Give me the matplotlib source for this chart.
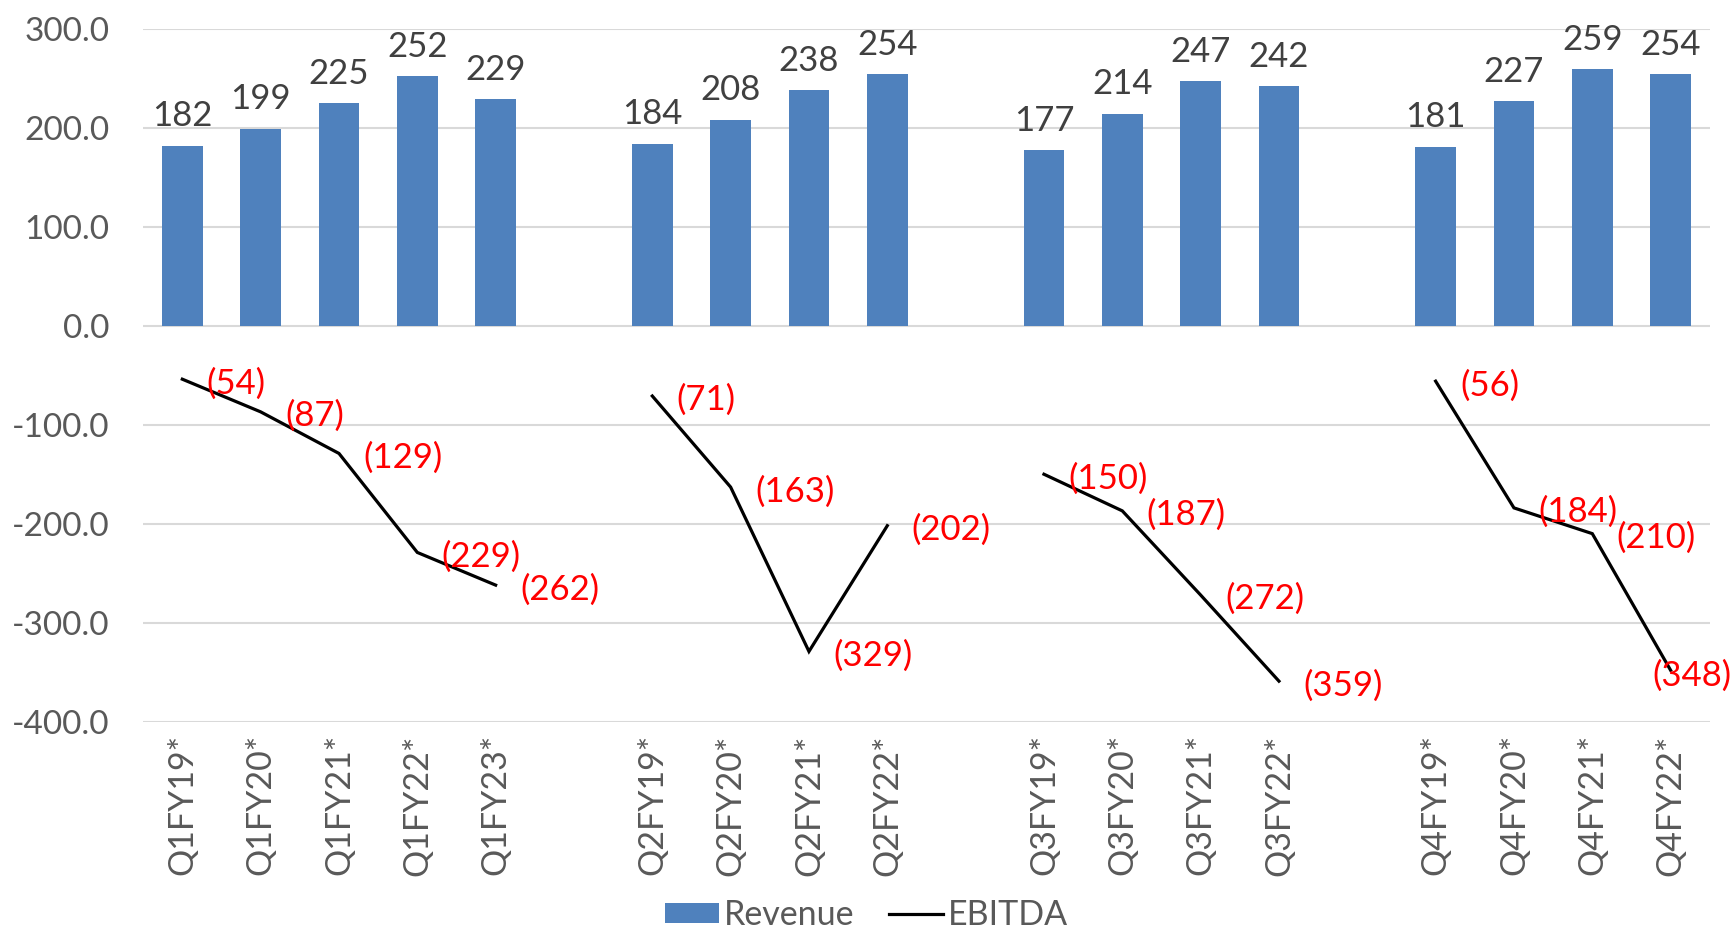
import numpy as np
import matplotlib
matplotlib.use("Agg")
import matplotlib.pyplot as plt
from matplotlib.patches import Patch
from matplotlib.lines import Line2D

# Quarterly groups, separated by an empty slot
categories = ["Q1FY19*", "Q1FY20*", "Q1FY21*", "Q1FY22*", "Q1FY23*", "",
              "Q2FY19*", "Q2FY20*", "Q2FY21*", "Q2FY22*", "",
              "Q3FY19*", "Q3FY20*", "Q3FY21*", "Q3FY22*", "",
              "Q4FY19*", "Q4FY20*", "Q4FY21*", "Q4FY22*"]
revenue = [182, 199, 225, 252, 229, np.nan,
           184, 208, 238, 254, np.nan,
           177, 214, 247, 242, np.nan,
           181, 227, 259, 254]
ebitda = [-54, -87, -129, -229, -262, np.nan,
          -71, -163, -329, -202, np.nan,
          -150, -187, -272, -359, np.nan,
          -56, -184, -210, -348]
yticks = [300, 200, 100, 0, -100, -200, -300, -400]

plt.rcParams["font.family"] = ["Lato", "DejaVu Sans"]
FS_TICK = 24
FS_CAT = 24.5
FS_LAB = 25
FS_LEG = 24.5
BAR = "#4F81BD"
TICK = "#595959"
LABEL = "#404040"

fig = plt.figure(figsize=(17.33, 9.32), dpi=100)
ax = fig.add_axes([0.0826, 0.2256, 0.904, 0.7436])

x = np.arange(len(categories))
rev = np.array(revenue, dtype=float)
ebt = np.array(ebitda, dtype=float)

ax.set_xlim(-0.5, len(categories) - 0.5)
ax.set_ylim(-400, 300)
ax.set_yticks(yticks)
ax.set_yticklabels([f"{v:.1f}" for v in yticks])
ax.yaxis.grid(True, color="#D9D9D9", linewidth=1.5)
ax.set_axisbelow(True)
for s in ax.spines.values():
    s.set_visible(False)
ax.tick_params(axis="y", length=0, pad=24, labelsize=FS_TICK, labelcolor=TICK)
ax.set_xticks(x)
ax.set_xticklabels(categories, rotation=90, fontsize=FS_CAT, color=TICK)
ax.tick_params(axis="x", length=0, pad=9)

mask = ~np.isnan(rev)
ax.bar(x[mask], rev[mask], width=0.52, color=BAR, zorder=2)
for xi, v in zip(x[mask], rev[mask]):
    ax.annotate(f"{v:.0f}", (xi, v), xytext=(0, 14), textcoords="offset points",
                ha="center", va="baseline", fontsize=FS_LAB, color=LABEL)

ax.plot(x, ebt, color="black", linewidth=2.3, zorder=3, solid_joinstyle="miter")

fig.canvas.draw()
renderer = fig.canvas.get_renderer()
W = fig.bbox.width
for xi, v in zip(x, ebt):
    if np.isnan(v):
        continue
    t = ax.annotate(f"({abs(v):.0f})", (xi, v), xytext=(17.5, -3),
                    textcoords="offset points", ha="left", va="center",
                    fontsize=FS_LAB, color="#FF0000", zorder=4)
    bb = t.get_window_extent(renderer)
    if bb.x1 > W - 3:
        # keep the label inside the figure
        t.set_ha("center")
        t.set_position((15, -4))

handles = [Patch(facecolor=BAR, edgecolor="none", label="Revenue"),
           Line2D([0], [0], color="black", linewidth=2.3, label="EBITDA")]
leg = fig.legend(handles=handles, loc="center", bbox_to_anchor=(0.5, 0.018),
                 ncol=2, frameon=False, fontsize=FS_LEG, handlelength=1.6,
                 handleheight=0.55, handletextpad=0.15, columnspacing=1.0)
for txt in leg.get_texts():
    txt.set_color(TICK)

fig.savefig("out.png", dpi=100)
